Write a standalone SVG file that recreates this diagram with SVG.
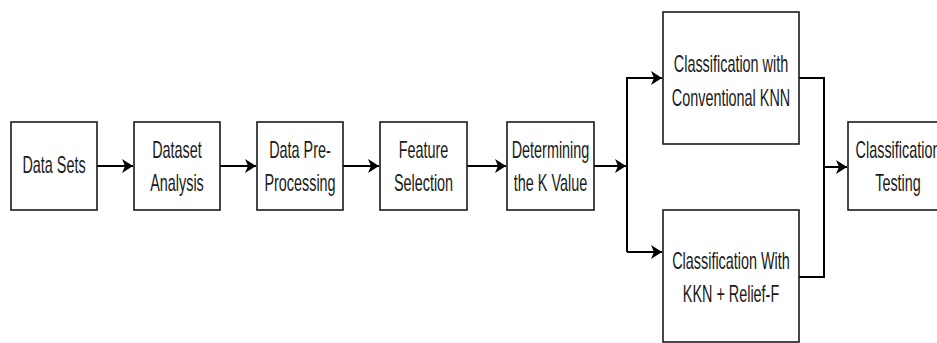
<svg xmlns="http://www.w3.org/2000/svg" width="937" height="343" viewBox="0 0 937 343">
<style>
.box{fill:#fff;stroke:#1a1a1a;stroke-width:1.6}
.lbl{font-family:"Liberation Sans",Arial,sans-serif;font-size:24px;fill:#1a1a1a;text-anchor:middle}
.c{fill:none;stroke:#000;stroke-width:2}
</style>
<defs>
<marker id="ah" markerUnits="userSpaceOnUse" markerWidth="12" markerHeight="14" refX="11" refY="7" orient="auto">
<path d="M0,0 L11,7 L0,14 L3,7 Z" fill="#000"/>
</marker>
</defs>
<rect width="937" height="343" fill="#fff"/>
<g id="connectors">
<path class="c" d="M97,166 H133" marker-end="url(#ah)"/>
<path class="c" d="M220,166 H256" marker-end="url(#ah)"/>
<path class="c" d="M343,166 H379" marker-end="url(#ah)"/>
<path class="c" d="M467,166 H506" marker-end="url(#ah)"/>
<path class="c" d="M594,166 H626" marker-end="url(#ah)"/>
<path class="c" d="M627,252 V78 H662" marker-end="url(#ah)"/>
<path class="c" d="M627,252 H662" marker-end="url(#ah)"/>
<path class="c" d="M799,78 H824 V277 H799"/>
<path class="c" d="M824,167 H847" marker-end="url(#ah)"/>
</g>
<g id="n1">
<rect class="box" x="11" y="122" width="86" height="88"/>
<text class="lbl" transform="matrix(0.6 0 0 1 54 173)">Data Sets</text>
</g>
<g id="n2">
<rect class="box" x="134" y="122" width="86" height="88"/>
<text class="lbl" transform="matrix(0.6 0 0 1 177 158)">Dataset</text>
<text class="lbl" transform="matrix(0.6 0 0 1 177 191)">Analysis</text>
</g>
<g id="n3">
<rect class="box" x="257" y="122" width="86" height="88"/>
<text class="lbl" transform="matrix(0.6 0 0 1 300 158)">Data Pre-</text>
<text class="lbl" transform="matrix(0.6 0 0 1 300 191)">Processing</text>
</g>
<g id="n4">
<rect class="box" x="380" y="122" width="87" height="88"/>
<text class="lbl" transform="matrix(0.6 0 0 1 423.5 158)">Feature</text>
<text class="lbl" transform="matrix(0.6 0 0 1 423.5 191)">Selection</text>
</g>
<g id="n5">
<rect class="box" x="507" y="122" width="87" height="88"/>
<text class="lbl" transform="matrix(0.6 0 0 1 550.5 158)">Determining</text>
<text class="lbl" transform="matrix(0.6 0 0 1 550.5 191)">the K Value</text>
</g>
<g id="n6">
<rect class="box" x="663" y="12" width="136" height="132"/>
<text class="lbl" transform="matrix(0.6 0 0 1 731 72)">Classification with</text>
<text class="lbl" transform="matrix(0.6 0 0 1 731 106)">Conventional KNN</text>
</g>
<g id="n7">
<rect class="box" x="663" y="210" width="136" height="132"/>
<text class="lbl" transform="matrix(0.6 0 0 1 731 269)">Classification With</text>
<text class="lbl" transform="matrix(0.6 0 0 1 731 302)">KKN + Relief-F</text>
</g>
<g id="n8">
<rect class="box" x="848" y="122" width="100" height="88"/>
<text class="lbl" transform="matrix(0.6 0 0 1 898 158)">Classification</text>
<text class="lbl" transform="matrix(0.6 0 0 1 898 191)">Testing</text>
</g>
</svg>
